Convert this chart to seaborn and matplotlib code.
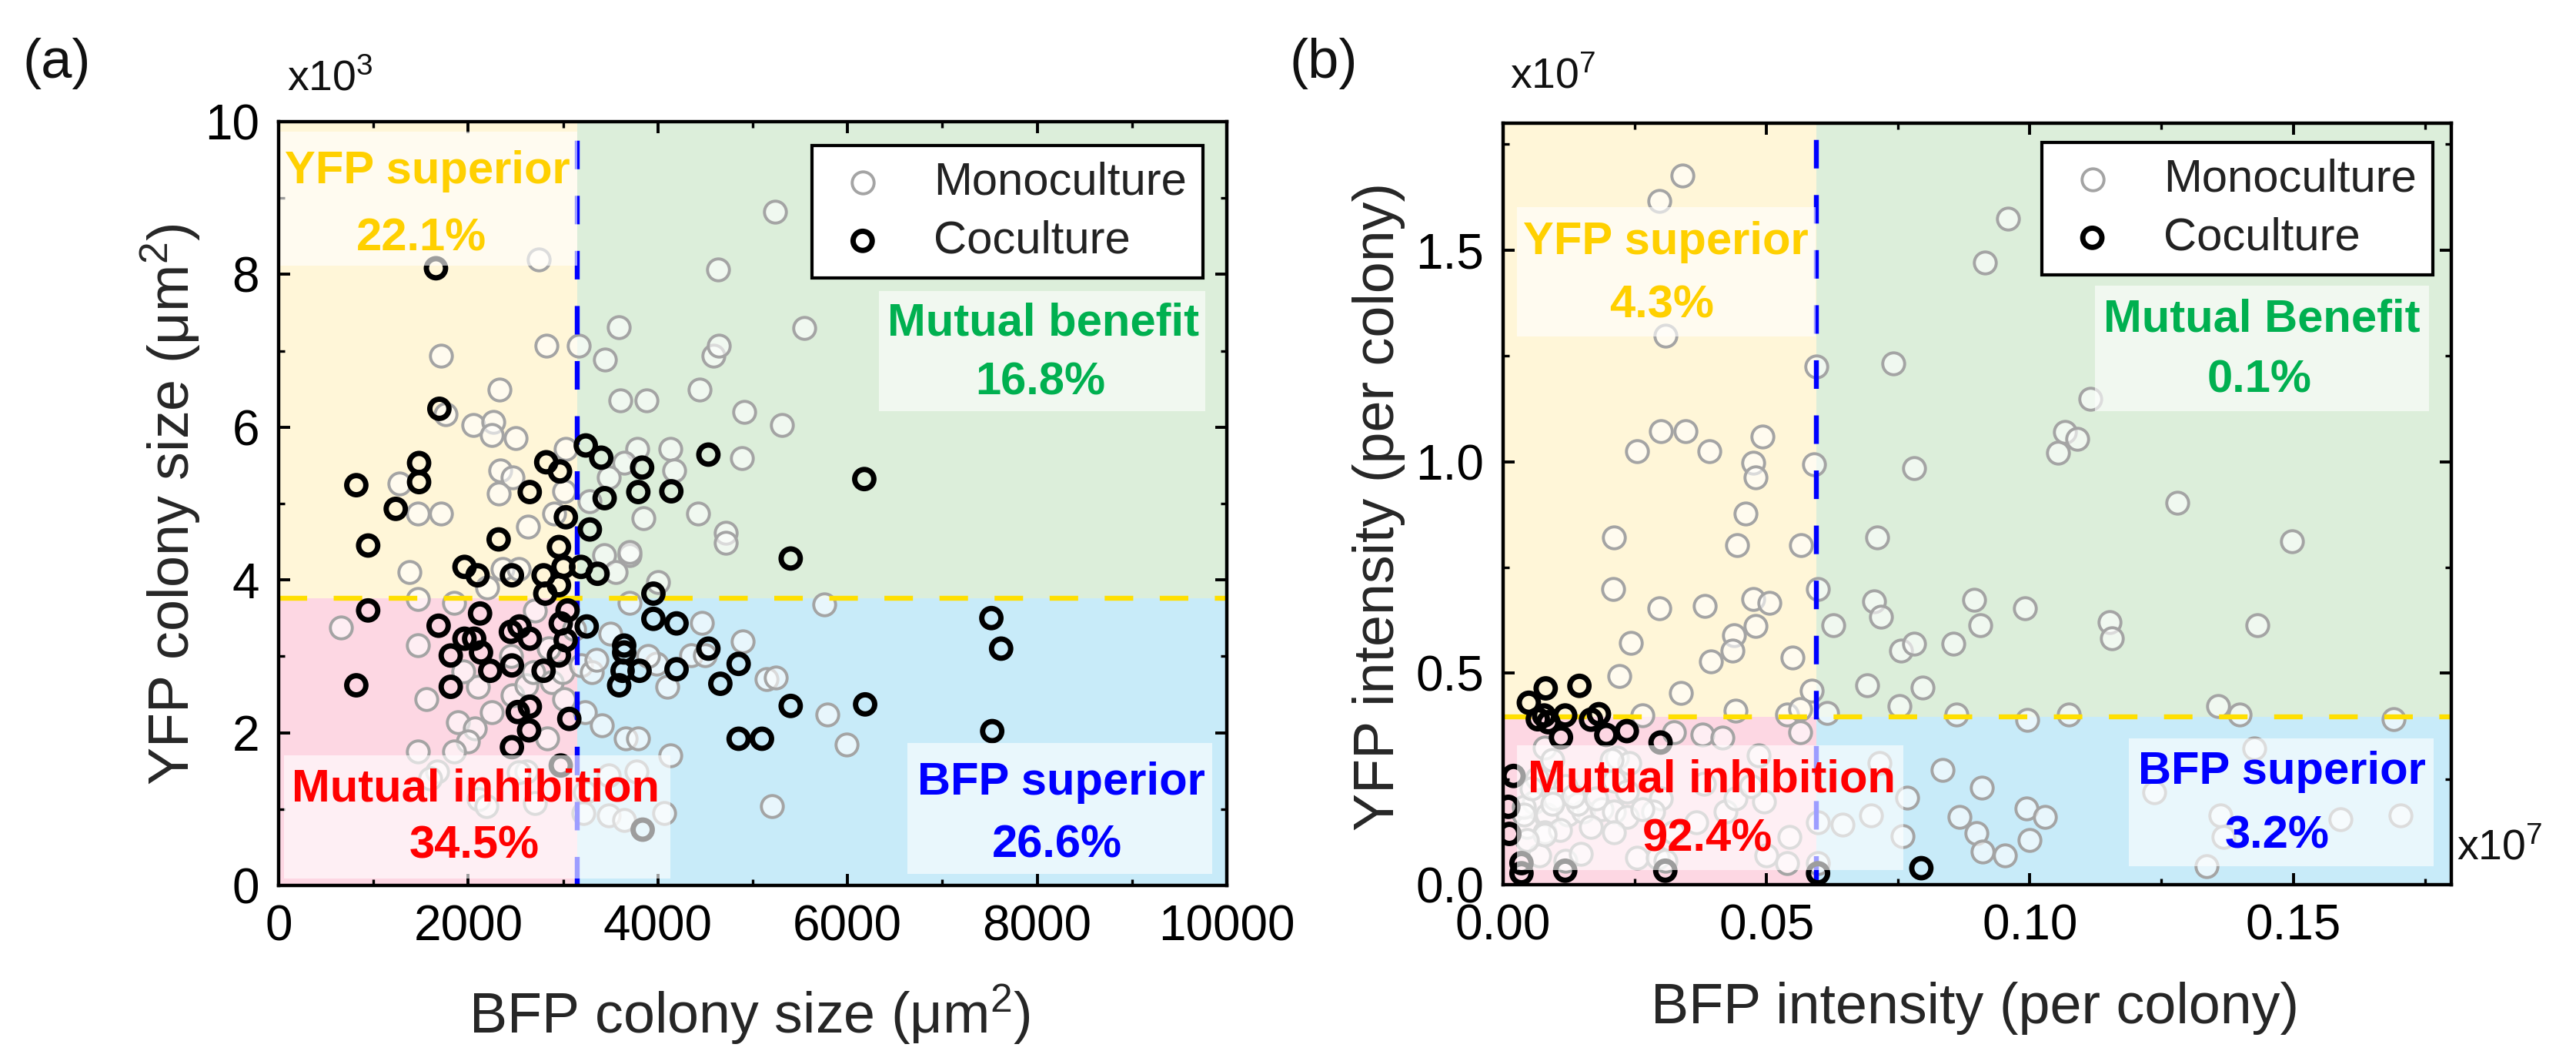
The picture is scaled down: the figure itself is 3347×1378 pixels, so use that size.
import numpy as np
import pandas as pd
import matplotlib
matplotlib.use("Agg")
import matplotlib.pyplot as plt
import seaborn as sns
from matplotlib.patches import Rectangle
from matplotlib.ticker import MultipleLocator, FuncFormatter

# ---------------- data ----------------
# Panel (a): colony sizes. BFP in um^2, YFP in units of 10^3 um^2
a_mono_bfp = [5239, 4635, 2740, 5546, 3592, 2823, 3164, 3439, 4587, 4642, 1714, 2334, 4443, 3602,
              3881, 4914, 5307, 2051, 2269, 2504, 2251, 1761, 3783, 4135, 4887, 3029, 3645, 4172,
              3482, 2340, 2469, 2324, 1272, 1470, 1716, 2632, 2903, 3845, 4427, 4716, 3283, 3015,
              3430, 3703, 2364, 2534, 4002, 3558,
              1380, 1470, 656, 1470, 1562, 1470, 1671, 1888, 2067, 1997, 2251, 2469, 2613, 2684,
              2882, 3011, 2996, 3230, 3409, 3662, 3790, 4135, 3774, 3482, 3230, 3482, 1599, 2613,
              2830, 3190, 3303, 3117, 4895, 5146, 3701, 4351, 4464, 4716, 3701,
              1852, 5759, 5247, 5785, 5990, 5205, 4497, 3985, 2108, 2193, 2705, 3217, 3643, 4070,
              2534, 1852, 2200, 2700, 2450, 2100, 1950, 2850, 3350, 3500, 3900, 4100]
a_mono_yfp = [8.82, 8.06, 8.19, 7.30, 7.31, 7.07, 7.07, 6.88, 6.93, 7.07, 6.93, 6.49, 6.49, 6.35,
              6.35, 6.20, 6.03, 6.03, 6.07, 5.86, 5.90, 6.17, 5.72, 5.72, 5.59, 5.72, 5.53, 5.43,
              5.34, 5.43, 5.34, 5.13, 5.26, 4.87, 4.87, 4.70, 4.87, 4.81, 4.87, 4.62, 5.03, 5.16,
              4.32, 4.32, 4.14, 4.14, 3.97, 4.10,
              4.10, 3.75, 3.38, 3.14, 2.44, 1.75, 1.49, 2.14, 2.06, 1.88, 2.27, 2.49, 2.62, 2.79,
              2.66, 2.44, 2.79, 2.27, 2.10, 1.92, 1.92, 1.70, 1.49, 1.44, 1.22, 0.92, 1.40, 1.49,
              1.92, 2.88, 2.79, 3.36, 3.19, 2.70, 3.70, 3.01, 3.44, 4.49, 4.36,
              3.70, 3.68, 2.72, 2.24, 1.84, 1.04, 3.01, 2.90, 1.13, 1.04, 1.08, 0.95, 0.86, 0.95,
              1.48, 1.75, 3.90, 3.60, 3.00, 2.60, 2.80, 3.10, 2.95, 3.30, 3.00, 2.60]

a_co_bfp = [1660, 1696, 1482, 1482, 820, 1236, 2823, 2968, 2649, 3240, 3403, 3834, 3794, 4142,
            4533, 3439, 3030, 3283, 6177, 5401,
            945, 2321, 1961, 2099, 2461, 2795, 2957, 3004, 2957, 2813, 3190, 3364,
            945, 2125, 1688, 2450, 2541, 2650, 1961, 2063, 2135, 1816, 2232, 2461, 2795, 2957,
            3028, 2976, 3048, 3250, 820, 1816, 2523, 2650, 2642, 2461, 3066,
            3645, 3645, 3628, 3592, 3807, 3953, 3953, 4197, 4197, 4533, 4659, 4852, 4852, 5098,
            5401, 6186, 7517, 7620, 7526, 2976, 3840]
a_co_yfp = [8.08, 6.24, 5.53, 5.28, 5.24, 4.93, 5.54, 5.42, 5.15, 5.76, 5.60, 5.47, 5.15, 5.16,
            5.64, 5.07, 4.82, 4.66, 5.32, 4.28,
            4.45, 4.53, 4.17, 4.06, 4.06, 4.06, 4.43, 4.17, 3.93, 3.82, 4.17, 4.08,
            3.60, 3.56, 3.40, 3.32, 3.39, 3.23, 3.23, 3.23, 3.05, 3.01, 2.81, 2.88, 2.81, 3.01,
            3.21, 3.43, 3.60, 3.39, 2.62, 2.60, 2.27, 2.34, 2.03, 1.81, 2.18,
            3.14, 3.05, 2.81, 2.62, 2.81, 3.82, 3.49, 3.43, 2.83, 3.10, 2.64, 2.90, 1.92, 1.92,
            2.35, 2.37, 3.50, 3.10, 2.02, 1.57, 0.73]

# Panel (b): intensities per colony, in units of 10^7
b_mono_bfp = [0.0341, 0.0297, 0.0309, 0.0595, 0.0299, 0.0346, 0.0255, 0.0392, 0.0493, 0.0475,
              0.0480, 0.0590, 0.0460, 0.0211, 0.0444, 0.0566, 0.0209, 0.0598, 0.0297, 0.0383,
              0.0475, 0.0505, 0.0479, 0.0439, 0.0435, 0.0243, 0.0549, 0.0395, 0.0221, 0.0338,
              0.0586,
              0.0441, 0.0539, 0.0564, 0.0265, 0.0564, 0.0324, 0.0378, 0.0417, 0.0079, 0.0216,
              0.0240, 0.0064, 0.0118, 0.0211, 0.0299, 0.0285, 0.0059, 0.0084, 0.0123, 0.0152,
              0.0187, 0.0211, 0.0235, 0.0265, 0.0045, 0.0079, 0.0108, 0.0167, 0.0211, 0.0040,
              0.0098, 0.0142, 0.0177, 0.0069, 0.0118, 0.0147, 0.0255, 0.0294, 0.0367, 0.0422,
              0.0382, 0.0441, 0.0495, 0.0544, 0.0500, 0.0539, 0.0485, 0.0323, 0.0470,
              0.0054, 0.0094, 0.0206, 0.0235, 0.0133, 0.0094, 0.0079, 0.0045, 0.0309, 0.0040,
              0.0741, 0.0958, 0.0914, 0.1115, 0.1053, 0.1066, 0.1090, 0.0781, 0.1280, 0.0710,
              0.1497, 0.0705, 0.0717, 0.0895, 0.0906, 0.0990, 0.1152, 0.1156, 0.1432, 0.0756,
              0.0781, 0.0855, 0.0797, 0.0691, 0.0752, 0.0627, 0.0615, 0.0860, 0.0995, 0.1074,
              0.1358, 0.1399, 0.1690,
              0.0835, 0.0909, 0.0867, 0.0994, 0.1029, 0.0899, 0.0911, 0.0953, 0.0999, 0.0767,
              0.0759, 0.0698, 0.0644, 0.0715, 0.0598, 0.0598, 0.1426, 0.1236, 0.1362, 0.1367,
              0.1335, 0.1589, 0.1703]
b_mono_yfp = [1.677, 1.616, 1.298, 1.225, 1.072, 1.072, 1.024, 1.024, 1.059, 0.998,
              0.963, 0.994, 0.878, 0.820, 0.803, 0.803, 0.698, 0.698, 0.654, 0.659,
              0.676, 0.667, 0.611, 0.589, 0.554, 0.571, 0.537, 0.528, 0.493, 0.454,
              0.459,
              0.412, 0.403, 0.415, 0.400, 0.360, 0.360, 0.354, 0.348, 0.324, 0.300,
              0.288, 0.251, 0.233, 0.245, 0.203, 0.173, 0.194, 0.166, 0.166, 0.173,
              0.178, 0.173, 0.160, 0.178, 0.136, 0.124, 0.130, 0.136, 0.124, 0.184,
              0.203, 0.191, 0.203, 0.069, 0.057, 0.073, 0.063, 0.063, 0.148, 0.173,
              0.239, 0.203, 0.197, 0.112, 0.069, 0.051, 0.306, 0.124, 0.233,
              0.227, 0.294, 0.294, 0.221, 0.209, 0.191, 0.118, 0.106, 0.057, 0.166,
              1.232, 1.575, 1.470, 1.149, 1.021, 1.071, 1.053, 0.985, 0.902, 0.820,
              0.812, 0.670, 0.634, 0.673, 0.614, 0.653, 0.621, 0.583, 0.614, 0.554,
              0.570, 0.570, 0.466, 0.471, 0.423, 0.614, 0.406, 0.402, 0.389, 0.402,
              0.423, 0.402, 0.391,
              0.272, 0.230, 0.160, 0.181, 0.160, 0.121, 0.078, 0.069, 0.106, 0.206,
              0.115, 0.163, 0.142, 0.288, 0.148, 0.051, 0.322, 0.219, 0.163, 0.113,
              0.043, 0.155, 0.163]

b_co_bfp = [0.0081, 0.0145, 0.0049, 0.0078, 0.0118, 0.0182, 0.0066, 0.0086, 0.0110, 0.0167,
            0.0196, 0.0235, 0.0299, 0.0020, 0.0010, 0.0012, 0.0035, 0.0035, 0.0118, 0.0308,
            0.0794, 0.0598]
b_co_yfp = [0.464, 0.470, 0.430, 0.400, 0.400, 0.403, 0.391, 0.384, 0.348, 0.390,
            0.354, 0.363, 0.336, 0.257, 0.184, 0.120, 0.027, 0.051, 0.033, 0.033,
            0.039, 0.027]

# thresholds (quadrant borders)
a_thr_bfp, a_thr_yfp = 3150, 3.76
b_thr_bfp, b_thr_yfp = 0.0595, 0.397

quad_names_a = ["YFP superior", "Mutual benefit", "Mutual inhibition", "BFP superior"]
quad_pcts_a = ["22.1%", "16.8%", "34.5%", "26.6%"]
quad_names_b = ["YFP superior", "Mutual Benefit", "Mutual inhibition", "BFP superior"]
quad_pcts_b = ["4.3%", "0.1%", "92.4%", "3.2%"]

# ---------------- style ----------------
sns.set_theme(style="ticks")
plt.rcParams.update({
    "axes.linewidth": 1.6,
    "axes.edgecolor": "black",
    "xtick.direction": "in", "ytick.direction": "in",
    "xtick.top": True, "ytick.right": True,
    "xtick.major.size": 5.5, "ytick.major.size": 5.5,
    "xtick.minor.size": 3.0, "ytick.minor.size": 3.0,
    "xtick.major.width": 1.4, "ytick.major.width": 1.4,
    "xtick.minor.width": 1.2, "ytick.minor.width": 1.2,
    "xtick.major.pad": 9, "ytick.major.pad": 9,
    "xtick.labelsize": 23, "ytick.labelsize": 23,
    "xtick.color": "black", "ytick.color": "black",
    "axes.labelsize": 26.5,
    "text.color": "#111111",
    "mathtext.fontset": "custom",
    "mathtext.rm": "Liberation Sans",
    "mathtext.default": "regular",
})
plt.rcParams["font.family"] = ["Liberation Sans", "DejaVu Sans"]

COL_Y_BG, COL_G_BG, COL_P_BG, COL_B_BG = "#FFF6D8", "#DCEEDA", "#FDD7E3", "#C8EBF9"
TXT_COLS = ["#FFD000", "#00B050", "#FF0000", "#0000FF"]

fig = plt.figure(figsize=(16.74, 6.89), dpi=200)
ax_a = fig.add_axes([0.1081, 0.1655, 0.3680, 0.7199])
ax_b = fig.add_axes([0.5833, 0.1662, 0.3680, 0.7177])


def draw_panel(ax, mx, my, cx, cy, xlim, ylim, xthr, ythr, boxes, label_pos, names, pcts,
               legend_anchor):
    x0, x1 = xlim
    y0, y1 = ylim
    # quadrant backgrounds
    ax.add_patch(Rectangle((x0, ythr), xthr - x0, y1 - ythr, color=COL_Y_BG, lw=0, zorder=0))
    ax.add_patch(Rectangle((xthr, ythr), x1 - xthr, y1 - ythr, color=COL_G_BG, lw=0, zorder=0))
    ax.add_patch(Rectangle((x0, y0), xthr - x0, ythr - y0, color=COL_P_BG, lw=0, zorder=0))
    ax.add_patch(Rectangle((xthr, y0), x1 - xthr, ythr - y0, color=COL_B_BG, lw=0, zorder=0))

    mono = pd.DataFrame({"x": mx, "y": my})
    co = pd.DataFrame({"x": cx, "y": cy})
    sns.scatterplot(data=mono, x="x", y="y", ax=ax, s=105, marker="o",
                    facecolor=(1, 1, 1, 0.6), edgecolor="#a4a4a4", linewidth=1.4,
                    label="Monoculture", zorder=2)
    ax.axvline(xthr, color="#0000FF", lw=2.3, ls=(0, (5.8, 5.4)), zorder=3)
    ax.axhline(ythr, color="#FFDF00", lw=2.3, ls=(0, (5.8, 5.4)), zorder=3)
    sns.scatterplot(data=co, x="x", y="y", ax=ax, s=80, marker="o",
                    facecolor="none", edgecolor="black", linewidth=2.5,
                    label="Coculture", zorder=4)

    for (bx0, by0, bx1, by1) in boxes:
        ax.add_patch(Rectangle((bx0, by0), bx1 - bx0, by1 - by0, facecolor="white",
                               alpha=0.62, lw=0, zorder=5))
    for (nx, ny, px, py), name, pct, col in zip(label_pos, names, pcts, TXT_COLS):
        ax.text(nx, ny, name, color=col, fontsize=21.5, fontweight="bold",
                ha="center", va="center", zorder=6)
        ax.text(px, py, pct, color=col, fontsize=21.5, fontweight="bold",
                ha="center", va="center", zorder=6)

    ax.set_xlim(xlim)
    ax.set_ylim(ylim)
    leg = ax.legend(loc="upper right", bbox_to_anchor=legend_anchor, frameon=True,
                    fancybox=False, edgecolor="black", framealpha=1, fontsize=21.5,
                    borderpad=0.35, labelspacing=0.35, handlelength=1.5, handletextpad=0.8,
                    borderaxespad=0)
    leg.get_frame().set_linewidth(1.5)
    for t in leg.get_texts():
        t.set_color("#222222")
    leg.set_zorder(10)
    for s in ax.spines.values():
        s.set_zorder(11)


# panel (a)
draw_panel(
    ax_a, a_mono_bfp, a_mono_yfp, a_co_bfp, a_co_yfp,
    (0, 10000), (0, 10), a_thr_bfp, a_thr_yfp,
    boxes=[(0, 8.11, 3150, 9.87), (6331, 6.21, 9770, 7.78), (60, 0.09, 4135, 1.70),
           (6630, 0.15, 9846, 1.86)],
    label_pos=[(1570, 9.35, 1510, 8.47), (8063, 7.36, 8038, 6.58),
               (2082, 1.26, 2065, 0.51), (8251, 1.35, 8208, 0.52)],
    names=quad_names_a, pcts=quad_pcts_a, legend_anchor=(0.975, 0.969))
ax_a.xaxis.set_major_locator(MultipleLocator(2000))
ax_a.xaxis.set_minor_locator(MultipleLocator(1000))
ax_a.yaxis.set_major_locator(MultipleLocator(2))
ax_a.yaxis.set_minor_locator(MultipleLocator(1))
ax_a.xaxis.set_major_formatter(FuncFormatter(lambda v, p: f"{v:.0f}"))
ax_a.yaxis.set_major_formatter(FuncFormatter(lambda v, p: f"{v:.0f}"))
ax_a.set_xlabel("BFP colony size (μm$^{2}$)")
ax_a.set_ylabel("YFP colony size (μm$^{2}$)")
ax_a.xaxis.set_label_coords(0.497, -0.169)
ax_a.yaxis.set_label_coords(-0.114, 0.499)
ax_a.xaxis.label.set_va("center")
ax_a.yaxis.label.set_va("center")

# panel (b)
draw_panel(
    ax_b, b_mono_bfp, b_mono_yfp, b_co_bfp, b_co_yfp,
    (0, 0.18), (0, 1.8), b_thr_bfp, b_thr_yfp,
    boxes=[(0.0027, 1.296, 0.0594, 1.602), (0.1124, 1.120, 0.1758, 1.416),
           (0.0027, 0.035, 0.0760, 0.330), (0.1188, 0.043, 0.1766, 0.346)],
    label_pos=[(0.0309, 1.519, 0.0301, 1.368), (0.1441, 1.336, 0.1436, 1.192),
               (0.0396, 0.247, 0.0388, 0.107), (0.1478, 0.266, 0.1470, 0.115)],
    names=quad_names_b, pcts=quad_pcts_b, legend_anchor=(0.9805, 0.975))
ax_b.xaxis.set_major_locator(MultipleLocator(0.05))
ax_b.xaxis.set_minor_locator(MultipleLocator(0.025))
ax_b.yaxis.set_major_locator(MultipleLocator(0.5))
ax_b.yaxis.set_minor_locator(MultipleLocator(0.25))
ax_b.xaxis.set_major_formatter(FuncFormatter(lambda v, p: f"{v:.2f}"))
ax_b.yaxis.set_major_formatter(FuncFormatter(lambda v, p: f"{v:.1f}"))
ax_b.set_xlabel("BFP intensity (per colony)")
ax_b.set_ylabel("YFP intensity (per colony)")
ax_b.xaxis.set_label_coords(0.498, -0.162)
ax_b.yaxis.set_label_coords(-0.131, 0.497)
ax_b.xaxis.label.set_va("center")
ax_b.yaxis.label.set_va("center")

# panel letters and multipliers
fig.text(0.022, 0.940, "(a)", fontsize=26, ha="center", va="center")
fig.text(0.5138, 0.940, "(b)", fontsize=26, ha="center", va="center")
fig.text(0.128, 0.925, "x10$^{3}$", fontsize=20, ha="center", va="center")
fig.text(0.6028, 0.927, "x10$^{7}$", fontsize=20, ha="center", va="center")
fig.text(0.970, 0.200, "x10$^{7}$", fontsize=20, ha="center", va="center")

fig.savefig("out.png", dpi=200)
